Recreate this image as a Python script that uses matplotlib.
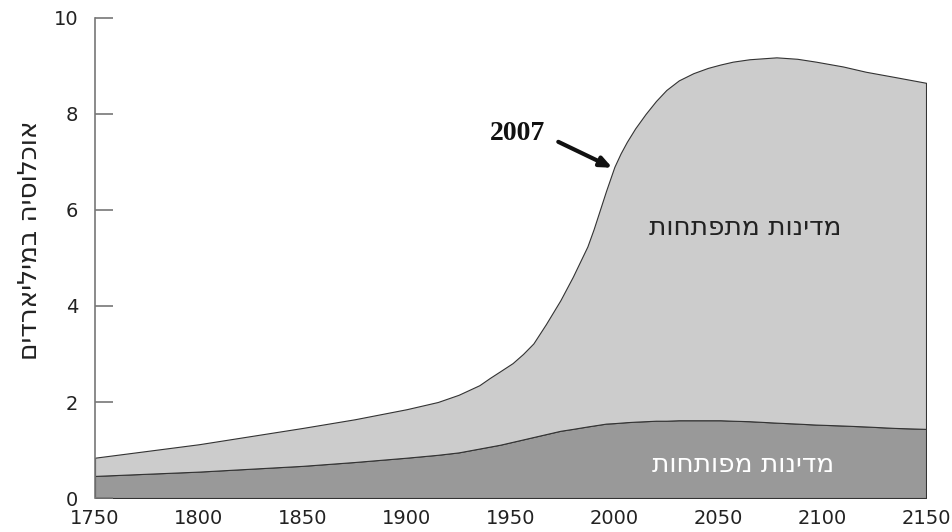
import numpy as np
import matplotlib.pyplot as plt

# population (billions)
years = [1750, 1800, 1850, 1875, 1900, 1915, 1925, 1935, 1940, 1945, 1951, 1956,
         1961, 1967, 1974, 1980, 1987, 1990, 1993, 1996, 2000, 2003, 2006, 2010,
         2015, 2020, 2025, 2031, 2038, 2045, 2051, 2057, 2065, 2078, 2088, 2097,
         2110, 2121, 2135, 2150]
total = [0.84, 1.12, 1.46, 1.64, 1.85, 2.0, 2.15, 2.35, 2.5, 2.64, 2.81, 3.0,
         3.22, 3.62, 4.12, 4.61, 5.24, 5.6, 6.0, 6.4, 6.9, 7.18, 7.42, 7.7,
         8.0, 8.27, 8.5, 8.7, 8.85, 8.96, 9.03, 9.09, 9.14, 9.18, 9.15, 9.09,
         8.99, 8.88, 8.77, 8.65]
developed = [0.46, 0.55, 0.67, 0.75, 0.84, 0.9, 0.95, 1.03, 1.07, 1.11, 1.17, 1.22,
             1.27, 1.33, 1.4, 1.44, 1.49, 1.51, 1.53, 1.55, 1.56, 1.57, 1.58, 1.59,
             1.6, 1.61, 1.61, 1.62, 1.62, 1.62, 1.62, 1.61, 1.6, 1.57, 1.55, 1.53,
             1.51, 1.49, 1.46, 1.44]

x_ticks = [1750, 1800, 1850, 1900, 1950, 2000, 2050, 2100, 2150]
y_ticks = [0, 2, 4, 6, 8, 10]

label_developing = 'מדינות מתפתחות'
label_developed = 'מדינות מפותחות'
y_label = 'אוכלוסיה במיליארדים'


def rtl(s):
    # matplotlib has no bidi support, so flip the Hebrew by hand
    return s[::-1]


plt.rcParams['font.family'] = ['DejaVu Sans']

fig = plt.figure(figsize=(9.52, 5.32), dpi=100)
ax = fig.add_axes([0.0998, 0.0639, 0.8729, 0.9023])

ax.fill_between(years, 0, developed, facecolor='#999999', edgecolor='#333333', lw=0.8)
ax.fill_between(years, developed, total, facecolor='#cccccc', edgecolor='#333333', lw=0.8)

ax.set_xlim(1750, 2150)
ax.set_ylim(0, 10)

for s in ['top', 'right', 'bottom']:
    ax.spines[s].set_visible(False)
ax.spines['left'].set_color('#777777')
ax.spines['left'].set_linewidth(1.2)

ax.set_yticks(y_ticks)
ax.tick_params(axis='y', direction='in', length=13, width=1.2, color='#777777',
               labelsize=14, pad=12, labelcolor='#222222')
ax.set_xticks(x_ticks)
ax.tick_params(axis='x', length=0, labelsize=14, pad=8, labelcolor='#222222')

ax.text(-0.078, 0.5375, rtl(y_label), transform=ax.transAxes, rotation=90,
        ha='center', va='center', fontsize=19, color='#222222')

ax.text(2063, 5.63, rtl(label_developing), ha='center', va='center',
        fontsize=19, color='#222222')
ax.text(2062, 0.69, rtl(label_developed), ha='center', va='center',
        fontsize=19, color='white')

ax.text(1953.5, 7.6, '2007', ha='center', va='center', fontsize=20,
        fontweight='bold', family='Liberation Serif', color='#111111')
ax.annotate('', xy=(1999, 6.88), xytext=(1973, 7.42),
            arrowprops=dict(arrowstyle='-|>,head_length=0.7,head_width=0.3',
                            lw=3, color='#111111', shrinkA=0, shrinkB=0))

fig.savefig('out.png', dpi=100)
